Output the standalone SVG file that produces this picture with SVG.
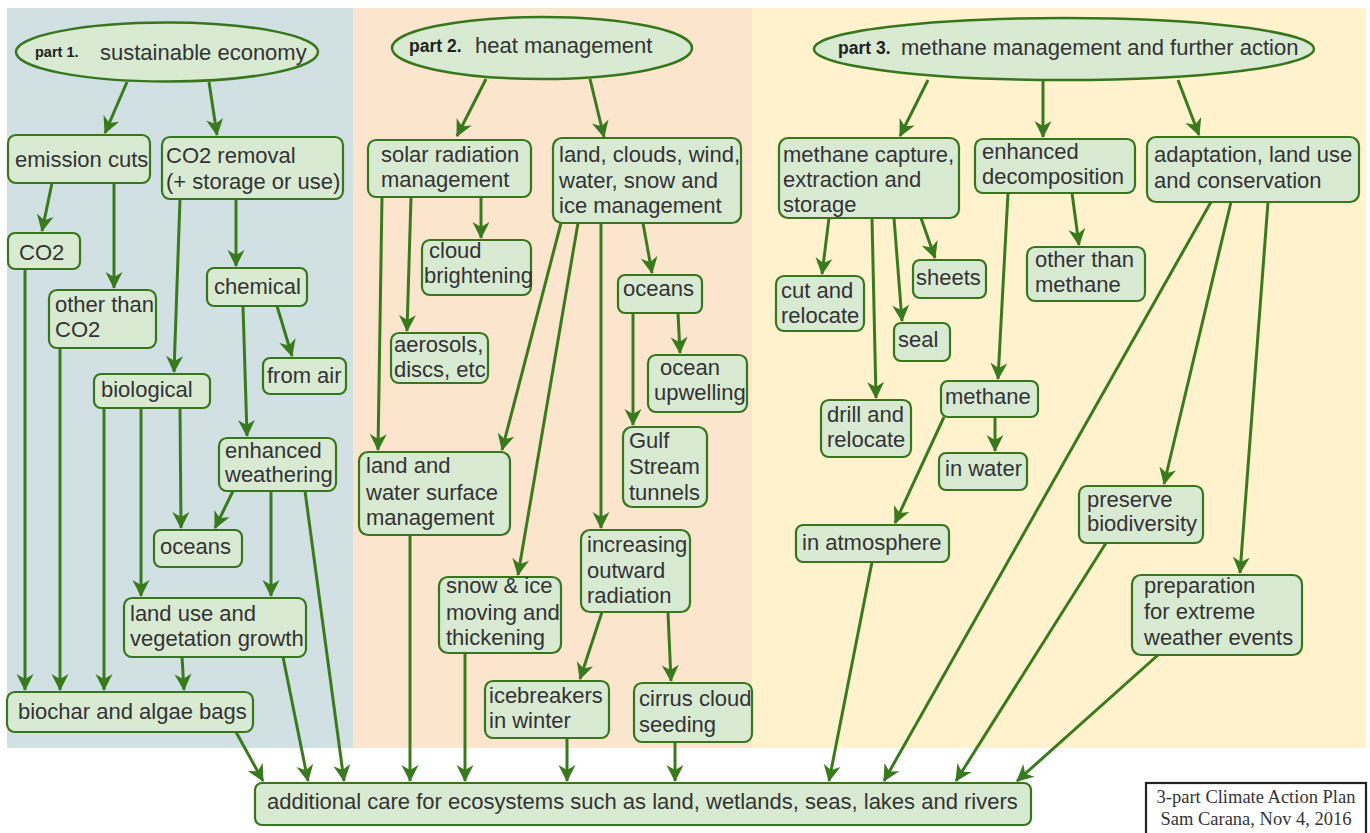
<svg xmlns="http://www.w3.org/2000/svg" width="1370" height="833" viewBox="0 0 1370 833">
<style>
.bx{fill:#d9ead3;stroke:#38761d;stroke-width:2.2}
.el{fill:#d9ead3;stroke:#38761d;stroke-width:2.5}
.t{font-family:"Liberation Sans",Arial,sans-serif;font-size:22px;fill:#333}
.b{font-family:"Liberation Sans",Arial,sans-serif;font-weight:bold;fill:#222}
.c line{stroke:#3a7a1e;stroke-width:3;marker-end:url(#ah)}
.cr{font-family:"Liberation Serif","Times New Roman",serif;font-size:18.5px;fill:#333;text-anchor:middle}
</style>
<defs>
<marker id="ah" viewBox="-17 -10 19 20" refX="0" refY="0" markerWidth="19" markerHeight="20" markerUnits="userSpaceOnUse" orient="auto">
<path d="M1,0 L-16,-8.5 L-11,0 L-16,8.5 Z" fill="#3a7a1e"/>
</marker>
</defs>
<rect width="1370" height="833" fill="#fff"/>
<g id="panels">
<rect x="7" y="8" width="346" height="740" fill="#d0e0e3"/>
<rect x="353" y="8" width="399" height="740" fill="#fce5cd"/>
<rect x="752" y="8" width="614" height="740" fill="#fff2cc"/>
</g>
<g class="c" id="connectors">
<line x1="127" y1="82" x2="105" y2="133"/>
<line x1="209" y1="82" x2="217" y2="135"/>
<line x1="52" y1="183" x2="42" y2="231"/>
<line x1="114" y1="183" x2="114" y2="288"/>
<line x1="180" y1="199" x2="174" y2="372"/>
<line x1="236" y1="199" x2="236" y2="266"/>
<line x1="243" y1="306" x2="247" y2="436"/>
<line x1="277" y1="306" x2="292" y2="356"/>
<line x1="180" y1="408" x2="181" y2="528"/>
<line x1="233" y1="491" x2="215" y2="528"/>
<line x1="141" y1="408" x2="141" y2="596"/>
<line x1="271" y1="491" x2="271" y2="596"/>
<line x1="25" y1="269" x2="25" y2="690"/>
<line x1="60" y1="348" x2="60" y2="690"/>
<line x1="104" y1="408" x2="104" y2="690"/>
<line x1="182" y1="657" x2="184" y2="690"/>
<line x1="236" y1="732" x2="263" y2="781"/>
<line x1="283" y1="657" x2="308" y2="781"/>
<line x1="305" y1="491" x2="344" y2="781"/>
<line x1="486" y1="79" x2="457" y2="136"/>
<line x1="590" y1="79" x2="604" y2="137"/>
<line x1="481" y1="197" x2="481" y2="238"/>
<line x1="411" y1="197" x2="407" y2="331"/>
<line x1="382" y1="197" x2="378" y2="450"/>
<line x1="561" y1="223" x2="502" y2="450"/>
<line x1="578" y1="223" x2="518" y2="575"/>
<line x1="601" y1="223" x2="601" y2="528"/>
<line x1="643" y1="223" x2="652" y2="273"/>
<line x1="678" y1="313" x2="680" y2="353"/>
<line x1="633" y1="313" x2="633" y2="425"/>
<line x1="602" y1="612" x2="580" y2="679"/>
<line x1="668" y1="612" x2="671" y2="681"/>
<line x1="410" y1="535" x2="410" y2="781"/>
<line x1="465" y1="653" x2="465" y2="781"/>
<line x1="567" y1="738" x2="567" y2="781"/>
<line x1="675" y1="742" x2="675" y2="781"/>
<line x1="928" y1="80" x2="900" y2="136"/>
<line x1="1043" y1="80" x2="1043" y2="137"/>
<line x1="1178" y1="80" x2="1199" y2="135"/>
<line x1="829" y1="218" x2="822" y2="274"/>
<line x1="872" y1="218" x2="876" y2="398"/>
<line x1="894" y1="218" x2="902" y2="321"/>
<line x1="921" y1="218" x2="935" y2="258"/>
<line x1="1008" y1="193" x2="998" y2="379"/>
<line x1="1072" y1="193" x2="1079" y2="245"/>
<line x1="995" y1="417" x2="995" y2="451"/>
<line x1="944" y1="417" x2="895" y2="523"/>
<line x1="872" y1="562" x2="829" y2="781"/>
<line x1="1211" y1="202" x2="884" y2="781"/>
<line x1="1231" y1="202" x2="1164" y2="484"/>
<line x1="1268" y1="202" x2="1240" y2="573"/>
<line x1="1106" y1="543" x2="956" y2="781"/>
<line x1="1158" y1="655" x2="1017" y2="781"/>
</g>
<g id="part1">
<ellipse class="el" cx="167" cy="52" rx="151" ry="29.5"/>
<text class="b" x="35" y="57" font-size="14.5px">part 1.</text>
<text class="t" x="100" y="60">sustainable economy</text>
</g>
<g id="part2">
<ellipse class="el" cx="542" cy="48" rx="150" ry="31"/>
<text class="b" x="409" y="52" font-size="17.5px">part 2.</text>
<text class="t" x="475" y="53">heat management</text>
</g>
<g id="part3">
<ellipse class="el" cx="1064" cy="49" rx="250" ry="31"/>
<text class="b" x="838" y="54" font-size="17.5px">part 3.</text>
<text class="t" x="901" y="55">methane management and further action</text>
</g>
<g id="emission-cuts"><rect class="bx" x="8" y="135" width="142" height="48" rx="8"/><text class="t" x="15" y="167">emission cuts</text></g>
<g id="co2-removal"><rect class="bx" x="162" y="137" width="181" height="62" rx="8"/><text class="t" x="166" y="163">CO2 removal</text><text class="t" x="166" y="189">(+ storage or use)</text></g>
<g id="co2"><rect class="bx" x="8" y="233" width="72" height="36" rx="7"/><text class="t" x="19" y="260">CO2</text></g>
<g id="other-than-co2"><rect class="bx" x="49" y="290" width="107" height="58" rx="8"/><text class="t" x="55" y="312">other than</text><text class="t" x="55" y="337">CO2</text></g>
<g id="chemical"><rect class="bx" x="207" y="268" width="100" height="38" rx="7"/><text class="t" x="214" y="294">chemical</text></g>
<g id="biological"><rect class="bx" x="94" y="374" width="116" height="34" rx="7"/><text class="t" x="101" y="397">biological</text></g>
<g id="from-air"><rect class="bx" x="263" y="358" width="83" height="36" rx="7"/><text class="t" x="267" y="383">from air</text></g>
<g id="enhanced-weathering"><rect class="bx" x="219" y="438" width="117" height="53" rx="8"/><text class="t" x="225" y="458">enhanced</text><text class="t" x="225" y="482">weathering</text></g>
<g id="oceans1"><rect class="bx" x="154" y="530" width="88" height="37" rx="7"/><text class="t" x="160" y="554">oceans</text></g>
<g id="land-use"><rect class="bx" x="124" y="598" width="182" height="59" rx="8"/><text class="t" x="130" y="621">land use and</text><text class="t" x="130" y="646">vegetation growth</text></g>
<g id="biochar"><rect class="bx" x="7" y="692" width="246" height="40" rx="8"/><text class="t" x="18" y="719">biochar and algae bags</text></g>
<g id="solar"><rect class="bx" x="368" y="140" width="163" height="57" rx="8"/><text class="t" x="381" y="162">solar radiation</text><text class="t" x="381" y="187">management</text></g>
<g id="land-clouds"><rect class="bx" x="553" y="138" width="188" height="85" rx="9"/><text class="t" x="559" y="162">land, clouds, wind,</text><text class="t" x="559" y="188">water, snow and</text><text class="t" x="559" y="213">ice management</text></g>
<g id="cloud-brightening"><rect class="bx" x="422" y="240" width="109" height="55" rx="8"/><text class="t" x="429" y="258">cloud</text><text class="t" x="424" y="283">brightening</text></g>
<g id="aerosols"><rect class="bx" x="391" y="333" width="97" height="50" rx="8"/><text class="t" x="394" y="352">aerosols,</text><text class="t" x="394" y="377">discs, etc</text></g>
<g id="oceans2"><rect class="bx" x="618" y="275" width="84" height="38" rx="7"/><text class="t" x="623" y="296">oceans</text></g>
<g id="ocean-upwelling"><rect class="bx" x="648" y="355" width="99" height="57" rx="8"/><text class="t" x="660" y="375">ocean</text><text class="t" x="654" y="400">upwelling</text></g>
<g id="gulf-stream"><rect class="bx" x="623" y="427" width="84" height="80" rx="9"/><text class="t" x="629" y="448">Gulf</text><text class="t" x="629" y="474">Stream</text><text class="t" x="629" y="500">tunnels</text></g>
<g id="land-water"><rect class="bx" x="359" y="452" width="151" height="83" rx="9"/><text class="t" x="366" y="473">land and</text><text class="t" x="366" y="500">water surface</text><text class="t" x="366" y="525">management</text></g>
<g id="increasing"><rect class="bx" x="581" y="530" width="109" height="82" rx="9"/><text class="t" x="587" y="552">increasing</text><text class="t" x="587" y="578">outward</text><text class="t" x="587" y="603">radiation</text></g>
<g id="snow-ice"><rect class="bx" x="439" y="577" width="122" height="76" rx="9"/><text class="t" x="446" y="593">snow &amp; ice</text><text class="t" x="446" y="620">moving and</text><text class="t" x="446" y="645">thickening</text></g>
<g id="icebreakers"><rect class="bx" x="485" y="681" width="124" height="57" rx="8"/><text class="t" x="489" y="703">icebreakers</text><text class="t" x="489" y="728">in winter</text></g>
<g id="cirrus"><rect class="bx" x="634" y="683" width="118" height="59" rx="8"/><text class="t" x="639" y="706">cirrus cloud</text><text class="t" x="639" y="732">seeding</text></g>
<g id="methane-capture"><rect class="bx" x="779" y="138" width="180" height="80" rx="9"/><text class="t" x="783" y="162">methane capture,</text><text class="t" x="783" y="187">extraction and</text><text class="t" x="783" y="212">storage</text></g>
<g id="enhanced-decomposition"><rect class="bx" x="975" y="139" width="160" height="54" rx="8"/><text class="t" x="982" y="159">enhanced</text><text class="t" x="982" y="184">decomposition</text></g>
<g id="adaptation"><rect class="bx" x="1147" y="137" width="212" height="65" rx="9"/><text class="t" x="1154" y="162">adaptation, land use</text><text class="t" x="1154" y="188">and conservation</text></g>
<g id="cut-relocate"><rect class="bx" x="776" y="276" width="88" height="55" rx="8"/><text class="t" x="781" y="298">cut and</text><text class="t" x="781" y="323">relocate</text></g>
<g id="sheets"><rect class="bx" x="913" y="260" width="73" height="38" rx="7"/><text class="t" x="916" y="285">sheets</text></g>
<g id="seal"><rect class="bx" x="894" y="323" width="56" height="38" rx="7"/><text class="t" x="898" y="347">seal</text></g>
<g id="other-than-methane"><rect class="bx" x="1027" y="247" width="118" height="54" rx="8"/><text class="t" x="1035" y="267">other than</text><text class="t" x="1035" y="292">methane</text></g>
<g id="drill-relocate"><rect class="bx" x="821" y="400" width="90" height="57" rx="8"/><text class="t" x="827" y="422">drill and</text><text class="t" x="827" y="447">relocate</text></g>
<g id="methane"><rect class="bx" x="941" y="381" width="97" height="36" rx="7"/><text class="t" x="945" y="404">methane</text></g>
<g id="in-water"><rect class="bx" x="939" y="453" width="88" height="37" rx="7"/><text class="t" x="945" y="476">in water</text></g>
<g id="in-atmosphere"><rect class="bx" x="796" y="525" width="153" height="37" rx="7"/><text class="t" x="802" y="550">in atmosphere</text></g>
<g id="preserve-biodiversity"><rect class="bx" x="1079" y="486" width="124" height="57" rx="8"/><text class="t" x="1087" y="507">preserve</text><text class="t" x="1087" y="531">biodiversity</text></g>
<g id="preparation"><rect class="bx" x="1132" y="575" width="170" height="80" rx="9"/><text class="t" x="1144" y="593">preparation</text><text class="t" x="1144" y="619">for extreme</text><text class="t" x="1144" y="645">weather events</text></g>
<g id="additional-care"><rect class="bx" x="255" y="783" width="776" height="42" rx="7"/><text class="t" x="267" y="809">additional care for ecosystems such as land, wetlands, seas, lakes and rivers</text></g>
<g id="credit">
<rect x="1146" y="783" width="220" height="60" fill="#fff" stroke="#222" stroke-width="2.2"/>
<text class="cr" x="1256" y="803">3-part Climate Action Plan</text>
<text class="cr" x="1256" y="825">Sam Carana, Nov 4, 2016</text>
</g>
</svg>
